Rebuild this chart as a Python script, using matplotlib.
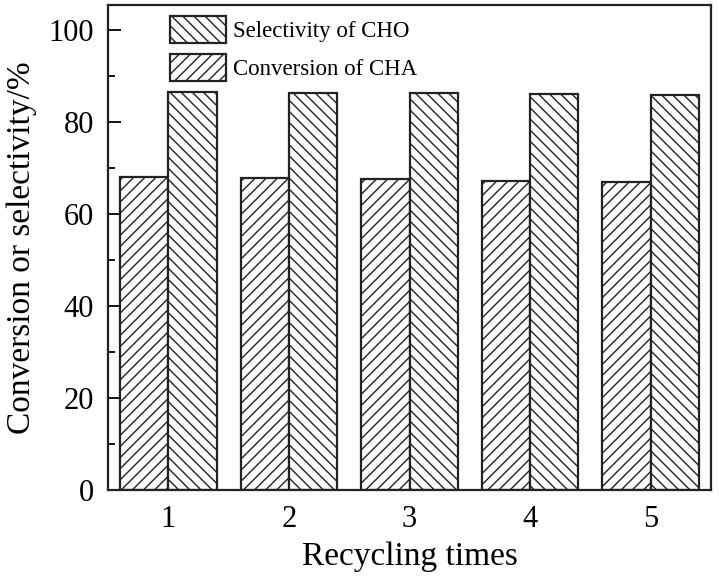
import matplotlib.pyplot as plt
import numpy as np

# data
cycles = [1, 2, 3, 4, 5]
selectivity_cho = [68.0, 67.8, 67.5, 67.2, 67.0]
conversion_cha = [86.5, 86.2, 86.3, 86.1, 85.9]

plt.rcParams["font.family"] = ["Liberation Serif", "DejaVu Serif"]
plt.rcParams["hatch.linewidth"] = 1.0
plt.rcParams["hatch.color"] = "#222222"

fig = plt.figure(figsize=(7.19, 5.76), dpi=100)
ax = fig.add_axes([108 / 719, 1 - 490 / 576, (711 - 108) / 719, (490 - 5) / 576])

x = np.array(cycles, dtype=float)
width = 0.4

# left bars (lower) use "/", right bars (higher) use "\"
b_left = ax.bar(x - width / 2, selectivity_cho, width, color="white",
                edgecolor="#222222", linewidth=1.6, hatch="///")
b_right = ax.bar(x + width / 2, conversion_cha, width, color="white",
                 edgecolor="#222222", linewidth=1.6, hatch="\\\\\\")

ax.set_xlim(0.5, 5.5)
ax.set_ylim(0, 105.4)
ax.set_xticks(cycles)
ax.set_yticks([0, 20, 40, 60, 80, 100])
ax.set_yticks([10, 30, 50, 70, 90], minor=True)
ax.tick_params(axis="y", which="major", direction="in", length=9, width=1.3,
               labelsize=22, pad=10)
ax.tick_params(axis="y", which="minor", direction="in", length=5, width=1.3)
ax.tick_params(axis="x", which="major", length=0, labelsize=22, pad=11)
for s in ax.spines.values():
    s.set_linewidth(1.6)
    s.set_color("#222222")

ax.set_xlabel("Recycling times", fontsize=24, labelpad=5)
ax.set_ylabel("Conversion or selectivity/%", fontsize=24, labelpad=8)

# legend: backslash box labelled selectivity, slash box labelled conversion
ax.legend([b_right, b_left], ["Selectivity of CHO", "Conversion of CHA"],
          loc="upper left", bbox_to_anchor=(0.103, 0.977), frameon=False,
          fontsize=16.5, handlelength=2.45, handleheight=1.4,
          handletextpad=0.3, labelspacing=0.5, borderpad=0, borderaxespad=0)

plt.savefig("out.png", dpi=100)
